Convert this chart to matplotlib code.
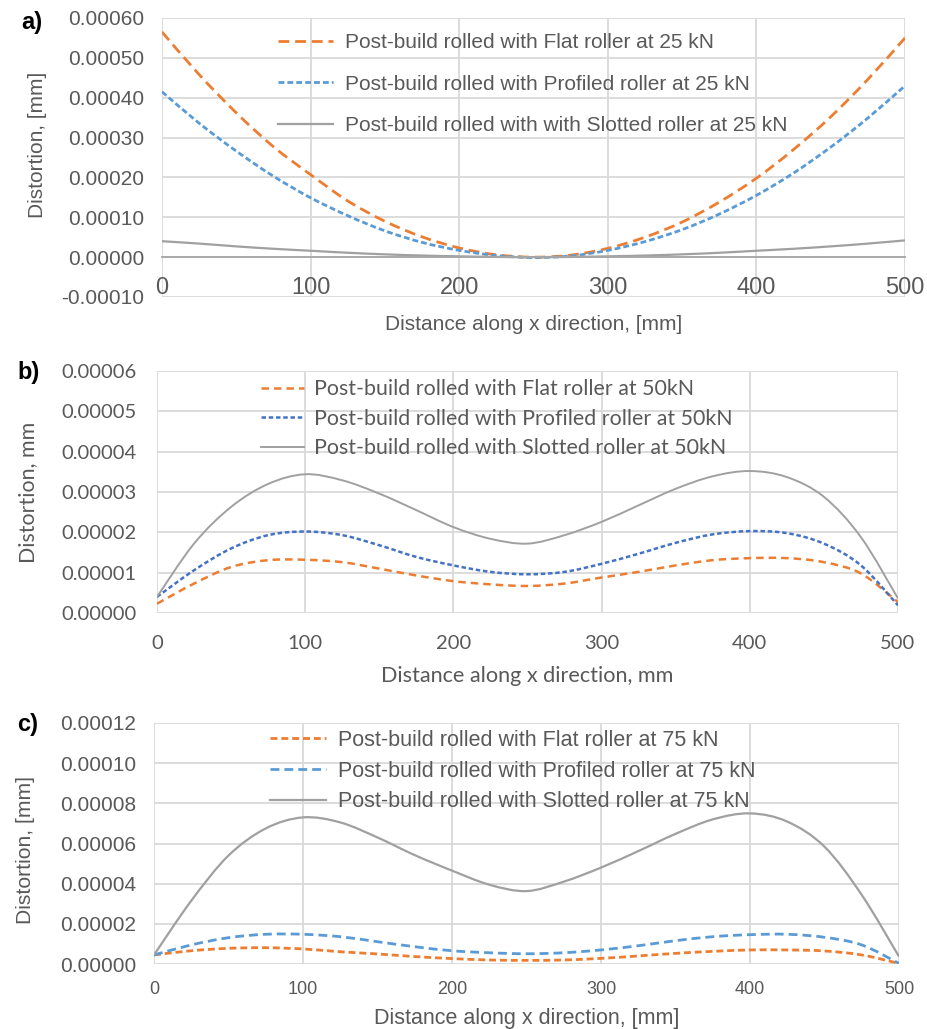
import matplotlib
matplotlib.use("Agg")
import matplotlib.pyplot as plt
from matplotlib.path import Path
from matplotlib.patches import PathPatch
from matplotlib.ticker import FormatStrFormatter

# distance along x direction (mm), shared by all three panels
x_mm = [0, 25, 50, 75, 100, 125, 150, 175, 200, 225, 250,
        275, 300, 325, 350, 375, 400, 425, 450, 475, 500]

# a) 25 kN
flat_25 = [5.65e-4, 4.58e-4, 3.62e-4, 2.77e-4, 2.07e-4, 1.41e-4, 0.90e-4, 0.51e-4, 0.23e-4, 0.06e-4, 0.0,
           0.05e-4, 0.22e-4, 0.50e-4, 0.88e-4, 1.38e-4, 1.98e-4, 2.70e-4, 3.52e-4, 4.46e-4, 5.50e-4]
profiled_25 = [4.15e-4, 3.36e-4, 2.66e-4, 2.03e-4, 1.49e-4, 1.04e-4, 0.66e-4, 0.37e-4, 0.17e-4, 0.04e-4, -0.01e-4,
               0.03e-4, 0.17e-4, 0.39e-4, 0.69e-4, 1.08e-4, 1.55e-4, 2.11e-4, 2.76e-4, 3.49e-4, 4.30e-4]
slotted_25 = [0.40e-4, 0.34e-4, 0.27e-4, 0.21e-4, 0.16e-4, 0.11e-4, 0.07e-4, 0.04e-4, 0.02e-4, 0.005e-4, 0.0,
              0.005e-4, 0.02e-4, 0.04e-4, 0.07e-4, 0.11e-4, 0.16e-4, 0.21e-4, 0.27e-4, 0.34e-4, 0.42e-4]

# b) 50 kN
flat_50 = [0.23e-5, 0.73e-5, 1.14e-5, 1.31e-5, 1.32e-5, 1.26e-5, 1.10e-5, 0.93e-5, 0.79e-5, 0.71e-5, 0.67e-5,
           0.73e-5, 0.88e-5, 1.02e-5, 1.18e-5, 1.31e-5, 1.36e-5, 1.36e-5, 1.26e-5, 0.98e-5, 0.27e-5]
profiled_50 = [0.40e-5, 1.06e-5, 1.60e-5, 1.93e-5, 2.02e-5, 1.93e-5, 1.68e-5, 1.39e-5, 1.18e-5, 1.02e-5, 0.96e-5,
               1.02e-5, 1.22e-5, 1.47e-5, 1.74e-5, 1.95e-5, 2.03e-5, 1.98e-5, 1.72e-5, 1.18e-5, 0.19e-5]
slotted_50 = [0.40e-5, 1.72e-5, 2.63e-5, 3.20e-5, 3.44e-5, 3.29e-5, 2.96e-5, 2.55e-5, 2.13e-5, 1.84e-5, 1.72e-5,
              1.93e-5, 2.26e-5, 2.67e-5, 3.08e-5, 3.39e-5, 3.52e-5, 3.37e-5, 2.88e-5, 1.88e-5, 0.36e-5]

# c) 75 kN
flat_75 = [0.45e-5, 0.66e-5, 0.78e-5, 0.81e-5, 0.75e-5, 0.61e-5, 0.50e-5, 0.37e-5, 0.27e-5, 0.20e-5, 0.18e-5,
           0.20e-5, 0.28e-5, 0.40e-5, 0.53e-5, 0.63e-5, 0.70e-5, 0.70e-5, 0.65e-5, 0.45e-5, 0.03e-5]
profiled_75 = [0.45e-5, 0.95e-5, 1.31e-5, 1.48e-5, 1.48e-5, 1.36e-5, 1.11e-5, 0.86e-5, 0.66e-5, 0.56e-5, 0.51e-5,
               0.56e-5, 0.70e-5, 0.91e-5, 1.16e-5, 1.36e-5, 1.46e-5, 1.48e-5, 1.33e-5, 0.95e-5, 0.03e-5]
slotted_75 = [0.45e-5, 3.15e-5, 5.40e-5, 6.75e-5, 7.30e-5, 7.05e-5, 6.30e-5, 5.42e-5, 4.65e-5, 3.95e-5, 3.63e-5,
              4.10e-5, 4.80e-5, 5.62e-5, 6.48e-5, 7.20e-5, 7.50e-5, 7.09e-5, 5.84e-5, 3.44e-5, 0.37e-5]

labels_25 = ["Post-build rolled with Flat roller at 25 kN",
             "Post-build rolled with Profiled roller at 25 kN",
             "Post-build rolled with with Slotted roller at 25 kN"]
labels_50 = ["Post-build rolled with Flat roller at 50kN",
             "Post-build rolled with Profiled roller at 50kN",
             "Post-build rolled with Slotted roller at 50kN"]
labels_75 = ["Post-build rolled with Flat roller at 75 kN",
             "Post-build rolled with Profiled roller at 75 kN",
             "Post-build rolled with Slotted roller at 75 kN"]

ORANGE = "#ED7D31"
LIGHT_BLUE = "#5B9BD5"
DARK_BLUE = "#4472C4"
GREY = "#A0A0A0"
TEXT = "#595959"
GRID = "#D9D9D9"
ARIAL = "Liberation Sans"
CALIBRI = "Lato"

W, H = 928, 1029
fig = plt.figure(figsize=(W / 100, H / 100), dpi=100)


def box(left, top, right, bottom):
    # axes rectangle from pixel edges
    return [left / W, 1 - bottom / H, (right - left) / W, (bottom - top) / H]


def smooth_line(ax, xs, ys, label, color, lw, dashes=None):
    # Excel-style smoothed line: cubic Bezier segments through every point
    n = len(xs)
    verts = [(xs[0], ys[0])]
    codes = [Path.MOVETO]
    for i in range(n - 1):
        p0 = max(i - 1, 0)
        p3 = min(i + 2, n - 1)
        c1 = (xs[i] + (xs[i + 1] - xs[p0]) / 6, ys[i] + (ys[i + 1] - ys[p0]) / 6)
        c2 = (xs[i + 1] - (xs[p3] - xs[i]) / 6, ys[i + 1] - (ys[p3] - ys[i]) / 6)
        verts += [c1, c2, (xs[i + 1], ys[i + 1])]
        codes += [Path.CURVE4] * 3
    ls = (0, dashes) if dashes else "-"
    ax.add_patch(PathPatch(Path(verts, codes), fill=False, edgecolor=color, lw=lw,
                           linestyle=ls, capstyle="butt", joinstyle="round"))
    # legend entry
    if dashes:
        ax.plot([], [], color=color, lw=lw, dashes=dashes, label=label)
    else:
        ax.plot([], [], color=color, lw=lw, label=label)


def style(ax, font, ylim, ystep, ytick_size, xtick_size, ypad, xpad):
    ax.set_xlim(0, 500)
    ax.set_ylim(*ylim)
    ax.set_xticks(range(0, 501, 100))
    n = int(round((ylim[1] - ylim[0]) / ystep))
    ax.set_yticks([ylim[0] + i * ystep for i in range(n + 1)])
    ax.yaxis.set_major_formatter(FormatStrFormatter("%.5f"))
    ax.grid(True, color=GRID, lw=1.3)
    ax.set_axisbelow(True)
    for s in ax.spines.values():
        s.set_visible(False)
    ax.tick_params(length=0, colors=TEXT, labelfontfamily=font)
    ax.tick_params(axis="y", labelsize=ytick_size, pad=ypad)
    ax.tick_params(axis="x", labelsize=xtick_size, pad=xpad)


# ---- a) 25 kN
ax1 = fig.add_axes(box(162, 18, 905, 297))
smooth_line(ax1, x_mm, flat_25, labels_25[0], ORANGE, 2.0, (3.9, 2.1))
smooth_line(ax1, x_mm, profiled_25, labels_25[1], LIGHT_BLUE, 2.0, (2.1, 1.1))
smooth_line(ax1, x_mm, slotted_25, labels_25[2], GREY, 1.6)
style(ax1, ARIAL, (-0.0001, 0.0006), 0.0001, 15, 17, 13, 14)
ax1.spines["bottom"].set_visible(True)
ax1.spines["bottom"].set_position(("data", 0))
ax1.spines["bottom"].set_color("#A6A6A6")
ax1.spines["bottom"].set_linewidth(1.3)
ax1.set_xlabel("Distance along x direction, [mm]", fontsize=15, color=TEXT, family=ARIAL)
ax1.xaxis.set_label_coords(0.5, -0.065)
ax1.set_ylabel("Distortion, [mm]", fontsize=15, color=TEXT, family=ARIAL)
ax1.yaxis.set_label_coords(-0.155, 0.545)
ax1.legend(loc="upper left", bbox_to_anchor=(278 / W, 1 - 33 / H), bbox_transform=fig.transFigure,
           frameon=False, prop={"family": ARIAL, "size": 15}, labelcolor=TEXT,
           handlelength=2.64, handletextpad=0.58, labelspacing=1.08, borderpad=0, borderaxespad=0)
fig.text(21 / W, 1 - 22 / H, "a)", fontsize=17, fontweight="bold", family=ARIAL, va="center")

# ---- b) 50 kN
ax2 = fig.add_axes(box(157, 371, 898, 613))
smooth_line(ax2, x_mm, flat_50, labels_50[0], ORANGE, 1.8, (3.0, 2.0))
smooth_line(ax2, x_mm, profiled_50, labels_50[1], DARK_BLUE, 1.8, (1.8, 1.1))
smooth_line(ax2, x_mm, slotted_50, labels_50[2], GREY, 1.4)
style(ax2, CALIBRI, (0, 0.00006), 0.00001, 14.5, 14.5, 15, 16)
ax2.set_xlabel("Distance along x direction, mm", fontsize=15.6, color=TEXT, family=CALIBRI)
ax2.xaxis.set_label_coords(0.5, -0.22)
ax2.set_ylabel("Distortion, mm", fontsize=15.4, color=TEXT, family=CALIBRI)
ax2.yaxis.set_label_coords(-0.161, 0.5)
ax2.legend(loc="upper left", bbox_to_anchor=(261 / W, 1 - 379 / H), bbox_transform=fig.transFigure,
           frameon=False, prop={"family": CALIBRI, "size": 15.4}, labelcolor=TEXT,
           handlelength=2.0, handletextpad=0.47, labelspacing=0.45, borderpad=0, borderaxespad=0)
fig.text(17 / W, 1 - 373 / H, "b)", fontsize=17, fontweight="bold", family=ARIAL, va="center")

# ---- c) 75 kN
ax3 = fig.add_axes(box(154, 723, 899, 964))
smooth_line(ax3, x_mm, flat_75, labels_75[0], ORANGE, 2.0, (2.5, 1.4))
smooth_line(ax3, x_mm, profiled_75, labels_75[1], LIGHT_BLUE, 2.0, (3.2, 1.8))
smooth_line(ax3, x_mm, slotted_75, labels_75[2], GREY, 1.6)
style(ax3, ARIAL, (0, 0.00012), 0.00002, 15, 13, 13, 12)
ax3.set_xlabel("Distance along x direction, [mm]", fontsize=15.5, color=TEXT, family=ARIAL)
ax3.xaxis.set_label_coords(0.5, -0.183)
ax3.set_ylabel("Distortion, [mm]", fontsize=15.2, color=TEXT, family=ARIAL)
ax3.yaxis.set_label_coords(-0.160, 0.475)
ax3.legend(loc="upper left", bbox_to_anchor=(270 / W, 1 - 730 / H), bbox_transform=fig.transFigure,
           frameon=False, prop={"family": ARIAL, "size": 15.5}, labelcolor=TEXT,
           handlelength=2.6, handletextpad=0.56, labelspacing=0.45, borderpad=0, borderaxespad=0)
fig.text(17 / W, 1 - 725 / H, "c)", fontsize=17, fontweight="bold", family=ARIAL, va="center")

fig.savefig("out.png", dpi=100, facecolor="white")
